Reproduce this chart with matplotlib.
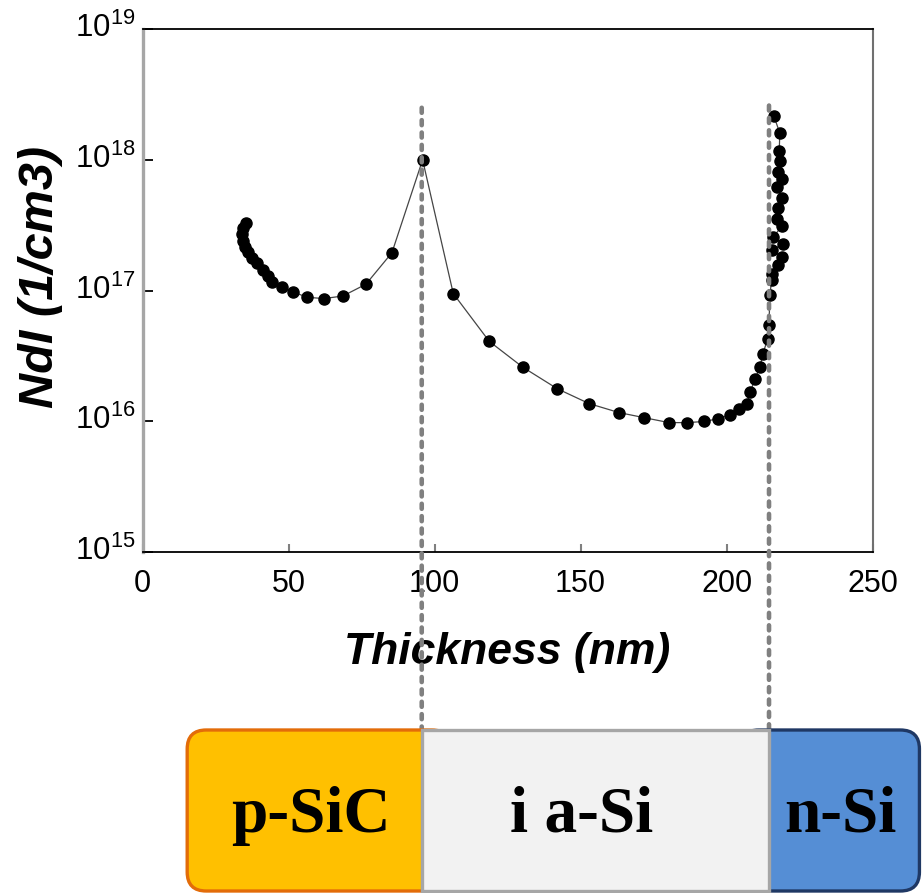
import numpy as np
import matplotlib
matplotlib.use('Agg')
import matplotlib.pyplot as plt
from matplotlib.patches import FancyBboxPatch, Rectangle, ConnectionPatch
from matplotlib.ticker import FuncFormatter, NullLocator
from matplotlib.transforms import ScaledTranslation

plt.rcParams['font.family'] = ['Liberation Sans', 'DejaVu Sans']
plt.rcParams['mathtext.fontset'] = 'custom'
plt.rcParams['mathtext.rm'] = 'Liberation Sans'
plt.rcParams['mathtext.it'] = 'Liberation Sans:italic'
plt.rcParams['mathtext.bf'] = 'Liberation Sans:bold'

# 数据
thickness = [35.4, 34.4, 34.1, 34.4, 35.1, 36.1, 37.5, 39.2, 41.3, 43.0,
             44.3, 47.8, 51.5, 56.3, 62.1, 68.6, 76.5, 85.4, 95.9, 106.4,
             118.7, 130.2, 142.0, 152.9, 163.1, 171.7, 180.3, 186.5, 192.3, 197.1,
             201.1, 204.2, 206.9, 208.0, 209.7, 211.4, 212.4, 214.1, 214.5, 214.8,
             215.4, 215.4, 217.7, 218.8, 215.4, 219.4, 216.0, 218.8, 217.1, 217.7,
             218.8, 217.1, 218.8, 217.7, 218.2, 218.0, 218.2, 216.2]
ndl = [3.3e17, 3.0e17, 2.7e17, 2.4e17, 2.15e17, 1.98e17, 1.78e17, 1.62e17, 1.44e17, 1.29e17,
       1.17e17, 1.07e17, 9.8e16, 8.9e16, 8.7e16, 9.1e16, 1.12e17, 1.95e17, 1.0e18, 9.5e16,
       4.1e16, 2.6e16, 1.78e16, 1.37e16, 1.17e16, 1.07e16, 9.8e15, 9.8e15, 1.0e16, 1.05e16,
       1.12e16, 1.25e16, 1.35e16, 1.67e16, 2.1e16, 2.6e16, 3.3e16, 4.3e16, 5.5e16, 9.3e16,
       1.2e17, 1.35e17, 1.58e17, 1.82e17, 2.04e17, 2.29e17, 2.57e17, 3.1e17, 3.5e17, 4.3e17,
       5.1e17, 6.2e17, 7.1e17, 8.1e17, 9.8e17, 1.17e18, 1.6e18, 2.15e18]

# 层结构 (nm)
layer_names = ['p-SiC', 'i a-Si', 'n-Si']
layer_edges = [15.3, 95.6, 214.5, 266.0]
layer_label_x = [57.5, 150.5, 239.0]
layer_colors = ['#FFC000', '#F2F2F2', '#558ED5']
layer_edgecolors = ['#E36C09', '#A6A6A6', '#1F3864']
interface_top = [2.5e18, 2.6e18]

W, H = 924, 893
fig = plt.figure(figsize=(W / 100, H / 100), dpi=100)

# 主图
x0, x1, y0, y1 = 142.5, 872.7, 29, 552.3
ax = fig.add_axes([x0 / W, 1 - y1 / H, (x1 - x0) / W, (y1 - y0) / H])
ax.plot(thickness, ndl, '-', color='#454545', linewidth=0.9, marker='o',
        markersize=8, markerfacecolor='black', markeredgecolor='black')
ax.set_yscale('log')
ax.set_xlim(0, 250)
ax.set_ylim(1e15, 1e19)
ax.set_xticks([0, 50, 100, 150, 200, 250])
ax.set_yticks([1e15, 1e16, 1e17, 1e18, 1e19])
ax.yaxis.set_minor_locator(NullLocator())
ax.yaxis.set_major_formatter(FuncFormatter(lambda v, p: '$10^{%d}$' % round(np.log10(v))))
ax.tick_params(axis='y', direction='in', length=7, width=1.3, color='black',
               labelsize=22.5, pad=5)
ax.tick_params(axis='x', direction='in', length=6, width=1.5, color='#808080',
               labelsize=22, pad=12)

# 让 "10" 对齐刻度
for lab in ax.get_yticklabels():
    lab.set_transform(lab.get_transform() + ScaledTranslation(0, 3 / 72, fig.dpi_scale_trans))

ax.spines['left'].set_color('#A6A6A6')
ax.spines['left'].set_linewidth(2.4)
ax.spines['right'].set_color('#707070')
ax.spines['right'].set_linewidth(1.5)
ax.spines['top'].set_linewidth(1.3)
ax.spines['bottom'].set_linewidth(1.3)

ax.set_xlabel('Thickness (nm)', fontsize=32, fontweight='bold', fontstyle='italic')
ax.set_ylabel('NdI (1/cm3)', fontsize=35, fontweight='bold', fontstyle='italic')
ax.xaxis.set_label_coords(0.5, -0.153)
ax.yaxis.set_label_coords(-0.109, 0.527)

# 层结构示意图
b0, b1 = 730, 891
bx = fig.add_axes([x0 / W, 1 - b1 / H, (x1 - x0) / W, (b1 - b0) / H])
px_per_nm = (x1 - x0) / 250
box_h = (b1 - b0) / px_per_nm
bx.set_xlim(0, 250)
bx.set_ylim(0, box_h)
bx.axis('off')

r = 6.5
ext = 10
# p-SiC (左侧圆角)
bx.add_patch(FancyBboxPatch((layer_edges[0], 0), layer_edges[1] - layer_edges[0] + ext, box_h,
                            boxstyle='round,pad=0,rounding_size=%g' % r,
                            fc=layer_colors[0], ec=layer_edgecolors[0], lw=2.4,
                            clip_on=False, zorder=2))
# n-Si (右侧圆角)
bx.add_patch(FancyBboxPatch((layer_edges[2] - ext, 0), layer_edges[3] - layer_edges[2] + ext, box_h,
                            boxstyle='round,pad=0,rounding_size=%g' % r,
                            fc=layer_colors[2], ec=layer_edgecolors[2], lw=2.4,
                            clip_on=False, zorder=2))
# i a-Si
bx.add_patch(Rectangle((layer_edges[1], 0), layer_edges[2] - layer_edges[1], box_h,
                       fc=layer_colors[1], ec=layer_edgecolors[1], lw=2.4,
                       clip_on=False, zorder=3))

for name, xc in zip(layer_names, layer_label_x):
    bx.text(xc, 20.2, name, ha='center', va='baseline', fontsize=47,
            fontweight='bold', family=['Liberation Serif', 'DejaVu Serif'], zorder=5)

# 界面虚线
for xi, yt in zip(layer_edges[1:3], interface_top):
    con = ConnectionPatch(xyA=(xi, yt), coordsA=ax.transData,
                          xyB=(xi, box_h / 2), coordsB=bx.transData,
                          color='#808080', lw=3.3, linestyle=(0, (1.1, 1.6)),
                          clip_on=False, zorder=1)
    bx.add_artist(con)

fig.savefig('out.png', dpi=100)
